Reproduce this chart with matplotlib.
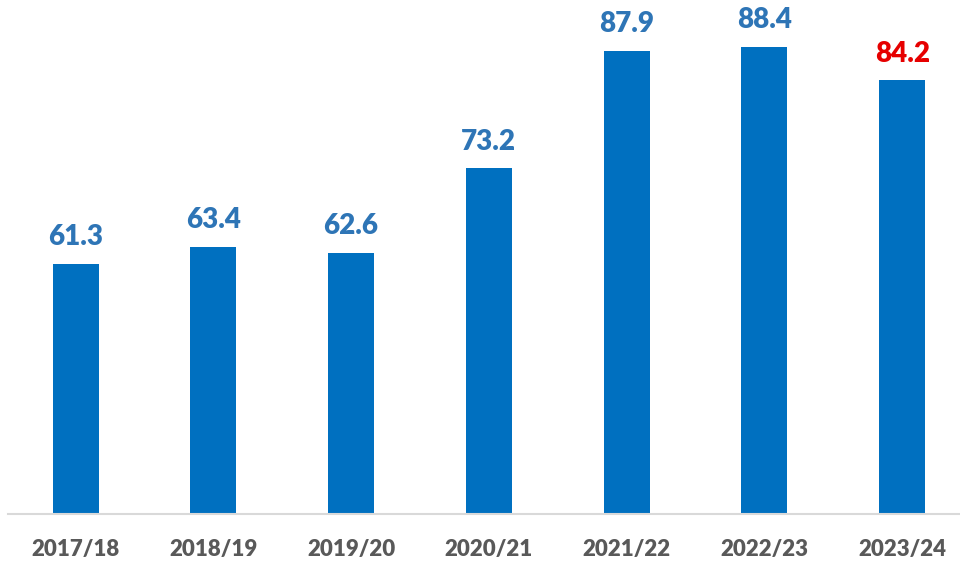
import matplotlib.pyplot as plt

# values per season
seasons = ["2017/18", "2018/19", "2019/20", "2020/21", "2021/22", "2022/23", "2023/24"]
values = [61.3, 63.4, 62.6, 73.2, 87.9, 88.4, 84.2]
label_colors = ["#2E75B6"] * 6 + ["#E60000"]

plt.rcParams['font.family'] = ['Lato', 'DejaVu Sans']

fig = plt.figure(figsize=(9.6, 5.65), dpi=100)
ax = fig.add_axes([8 / 960, 51 / 565, 952 / 960, 504 / 565])

x = range(len(seasons))
bars = ax.bar(x, values, width=0.334, color="#0070C0", zorder=2)

for b, v, c in zip(bars, values, label_colors):
    ax.annotate(f"{v:.1f}", (b.get_x() + b.get_width() / 2, v),
                xytext=(0, 10), textcoords="offset points",
                ha="center", va="bottom", fontsize=20, fontweight="heavy", color=c)

ax.set_ylim(30, 93)
ax.set_xlim(-0.49, 6.42)
ax.set_xticks(list(x))
ax.set_xticklabels(seasons, fontsize=16, fontweight="heavy", color="#595959")
ax.tick_params(axis="x", length=0, pad=18)
ax.set_yticks([])

for side in ["left", "right", "top"]:
    ax.spines[side].set_visible(False)
ax.spines["bottom"].set_color("#D9D9D9")
ax.spines["bottom"].set_linewidth(1.5)

fig.savefig("out.png", dpi=100)
